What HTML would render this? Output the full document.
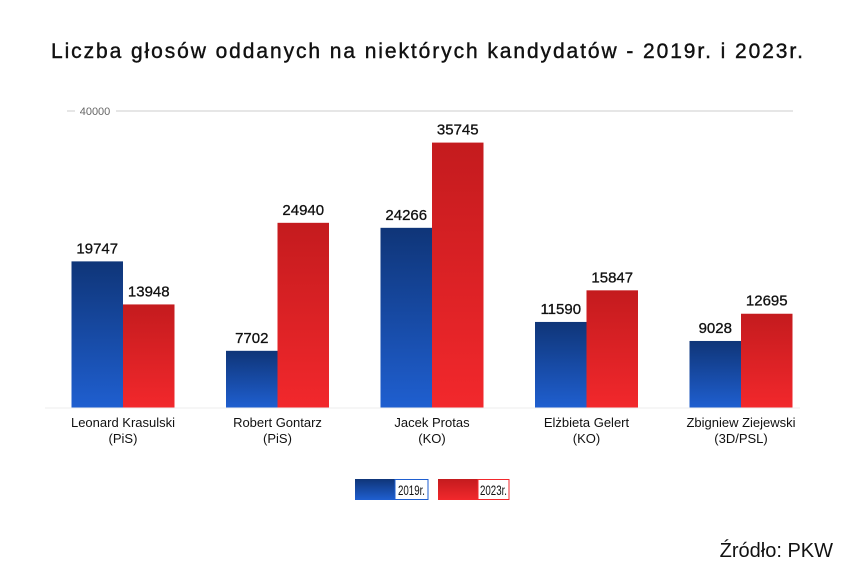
<!DOCTYPE html>
<html><head><meta charset="utf-8"><style>
body{margin:0;background:#fff;font-family:"Liberation Sans",sans-serif}
svg text{font-family:"Liberation Sans",sans-serif}
</style></head><body>
<svg id="c" width="855" height="571" xmlns="http://www.w3.org/2000/svg">
<defs>
<linearGradient id="gb" x1="0" y1="0" x2="0" y2="1"><stop offset="0" stop-color="#0f3578"/><stop offset="1" stop-color="#1f5fd0"/></linearGradient>
<linearGradient id="gr" x1="0" y1="0" x2="0" y2="1"><stop offset="0" stop-color="#c41b1e"/><stop offset="1" stop-color="#f2282c"/></linearGradient>
</defs>
<text x="427" y="58" text-anchor="middle" font-size="21" fill="#111" stroke="#111" stroke-width="0.4" textLength="752">Liczba głosów oddanych na niektórych kandydatów - 2019r. i 2023r.</text>
<line x1="67" y1="111" x2="75" y2="111" stroke="#ccc"/>
<text x="95" y="115" text-anchor="middle" font-size="11" fill="#666">40000</text>
<line x1="116" y1="111" x2="793" y2="111" stroke="#ddd" stroke-width="1.5"/>
<g id="bars"></g>
<g>
<rect x="355" y="479" width="40" height="21" fill="url(#gb)"/>
<rect x="395" y="479.5" width="33" height="20" fill="#fff" stroke="#1f5fd0"/>
<text x="398" y="495" font-size="14" fill="#111" textLength="27" lengthAdjust="spacingAndGlyphs">2019r.</text>
<rect x="438" y="479" width="40" height="21" fill="url(#gr)"/>
<rect x="478" y="479.5" width="31" height="20" fill="#fff" stroke="#f2282c"/>
<text x="480" y="495" font-size="14" fill="#111" textLength="27" lengthAdjust="spacingAndGlyphs">2023r.</text>
</g>
<text x="833" y="557" text-anchor="end" font-size="20" fill="#111">Źródło: PKW</text>
</svg>
<script>
const categories=["Leonard Krasulski","Robert Gontarz","Jacek Protas","Elżbieta Gelert","Zbigniew Ziejewski"];
const parties=["(PiS)","(PiS)","(KO)","(KO)","(3D/PSL)"];
const values2019=[19747,7702,24266,11590,9028];
const values2023=[13948,24940,35745,15847,12695];
const NS="http://www.w3.org/2000/svg";
const g=document.getElementById('bars');
const baseY=408, topY=111, maxV=40000;
const y=v=>baseY-(v/maxV)*(baseY-topY);
const x0=123, step=154.5, bw=51.5;
const xc=i=>x0+i*step;
function mk(tag,attrs){const e=document.createElementNS(NS,tag);for(const k in attrs)e.setAttribute(k,attrs[k]);g.appendChild(e);return e;}
categories.forEach((c,i)=>{
  [[values2019,-bw,'url(#gb)','2019'],[values2023,0,'url(#gr)','2023']].forEach(([arr,off,fill,yr])=>{
    const v=arr[i];
    const r=mk('rect',{x:xc(i)+off,y:y(v),width:bw,height:baseY-y(v),fill:fill});
    
    
    const t=mk('text',{x:xc(i)+off+bw/2,y:y(v)-8,'text-anchor':'middle','font-size':15,fill:'#111',stroke:'#111','stroke-width':0.3});
    t.textContent=v;
    
    
  });
  const l1=mk('text',{x:xc(i),y:427,'text-anchor':'middle','font-size':13,fill:'#111'});
  l1.textContent=c;
  
  
  const l2=mk('text',{x:xc(i),y:443,'text-anchor':'middle','font-size':13,fill:'#111'});
  l2.textContent=parties[i];
  
  
});
const bl=mk('line',{x1:45,y1:baseY,x2:800,y2:baseY,stroke:'#eee'});


</script>
</body></html>
